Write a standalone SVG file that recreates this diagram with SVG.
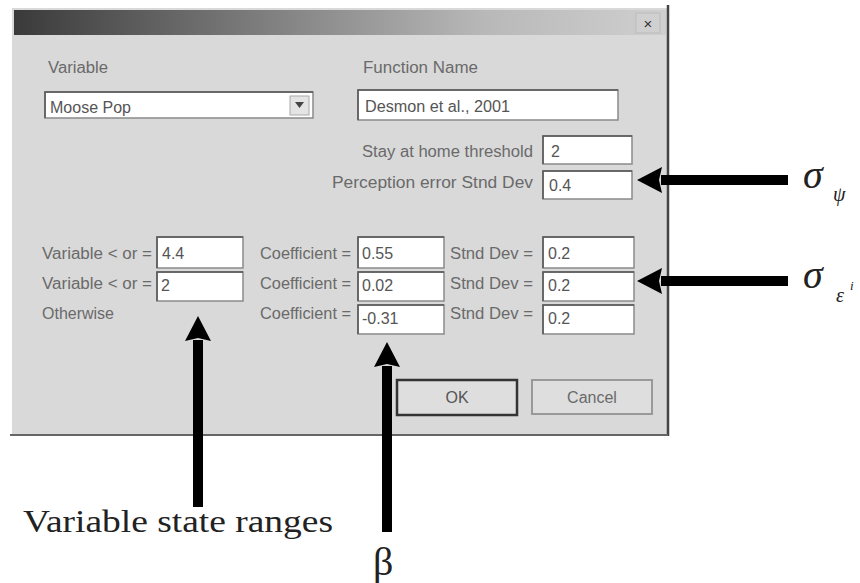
<svg xmlns="http://www.w3.org/2000/svg" width="860" height="583" viewBox="0 0 860 583">
<defs>
<linearGradient id="tb" x1="0" y1="0" x2="1" y2="0">
<stop offset="0" stop-color="#3a3a3a"/>
<stop offset="0.15" stop-color="#555"/>
<stop offset="0.45" stop-color="#8a8a8a"/>
<stop offset="0.72" stop-color="#b8b8b8"/>
<stop offset="1" stop-color="#cfcfcf"/>
</linearGradient>
<marker id="ah" markerUnits="userSpaceOnUse" markerWidth="26" markerHeight="26" viewBox="0 0 26 26" refX="1" refY="13" orient="auto">
<path d="M0,0 L25,13 L0,26 L3,13 z" fill="#000"/>
</marker>
<style>
.lbl{font-family:"Liberation Sans",Arial,sans-serif;font-size:16px;fill:#6a6a6a}
.val{font-family:"Liberation Sans",Arial,sans-serif;font-size:16px;fill:#555}
.box{fill:#fff;stroke:#8a8a8a;stroke-width:1.5}
.sunk{fill:none;stroke:#555;stroke-width:1.5}
.arr{stroke:#000;stroke-width:10;fill:none;marker-end:url(#ah)}
.serif{font-family:"Liberation Serif","Times New Roman",serif;fill:#222}
.btn{fill:#dedede;stroke:#999;stroke-width:2}
</style>
</defs>
<rect width="860" height="583" fill="#fff"/>

<g id="dialog">
<rect x="12" y="8" width="656" height="427" fill="#d9d9d9"/>
<rect x="14" y="10" width="652" height="25" fill="url(#tb)"/>
<line x1="668" y1="5" x2="668" y2="436" stroke="#444" stroke-width="2.5"/>
<line x1="10" y1="435" x2="668" y2="435" stroke="#666" stroke-width="2"/>
</g>

<g id="close">
<rect x="636" y="13" width="24" height="20" fill="#d0d0d0" stroke="#bbb"/>
<text x="648" y="29" text-anchor="middle" class="val" style="font-size:15px;fill:#333">×</text>
</g>

<g id="variable">
<text x="48" y="73" class="lbl" textLength="60" lengthAdjust="spacingAndGlyphs">Variable</text>
<rect x="45" y="92" width="268" height="26" class="box"/>
<polyline points="45,118 45,92 313,92" class="sunk"/>
<text x="50" y="113" class="val">Moose Pop</text>
<rect x="290" y="96" width="19" height="19" fill="#e4e4e4" stroke="#aaa"/>
<path d="M295,102 L304,102 L299.5,108 z" fill="#444"/>
</g>

<g id="function-name">
<text x="363" y="73" class="lbl" textLength="115" lengthAdjust="spacingAndGlyphs">Function Name</text>
<rect x="358" y="90" width="260" height="30" class="box"/>
<polyline points="358,120 358,90 618,90" class="sunk"/>
<text x="365" y="112" class="val" textLength="145" lengthAdjust="spacingAndGlyphs">Desmon et al., 2001</text>
</g>

<g id="stay-threshold">
<text x="533" y="157" text-anchor="end" class="lbl" textLength="171" lengthAdjust="spacingAndGlyphs">Stay at home threshold</text>
<rect x="543" y="136" width="89" height="28" class="box"/>
<polyline points="543,164 543,136 632,136" class="sunk"/>
<text x="551" y="157" class="val">2</text>
</g>

<g id="perception-sd">
<text x="533" y="188" text-anchor="end" class="lbl" textLength="201" lengthAdjust="spacingAndGlyphs">Perception error Stnd Dev</text>
<rect x="543" y="171" width="89" height="28" class="box"/>
<polyline points="543,199 543,171 632,171" class="sunk"/>
<text x="549" y="191" class="val">0.4</text>
</g>

<g id="row1">
<text x="42" y="259" class="lbl" textLength="110" lengthAdjust="spacingAndGlyphs">Variable &lt; or =</text>
<rect x="157" y="237" width="86" height="31" class="box"/>
<polyline points="157,268 157,237 243,237" class="sunk"/>
<text x="162" y="259" class="val">4.4</text>
<text x="260" y="259" class="lbl" textLength="91" lengthAdjust="spacingAndGlyphs">Coefficient =</text>
<rect x="358" y="237" width="86" height="31" class="box"/>
<polyline points="358,268 358,237 444,237" class="sunk"/>
<text x="362" y="259" class="val">0.55</text>
<text x="450" y="259" class="lbl" textLength="83" lengthAdjust="spacingAndGlyphs">Stnd Dev =</text>
<rect x="543" y="237" width="91" height="31" class="box"/>
<polyline points="543,268 543,237 634,237" class="sunk"/>
<text x="548" y="259" class="val">0.2</text>
</g>

<g id="row2">
<text x="42" y="289" class="lbl" textLength="110" lengthAdjust="spacingAndGlyphs">Variable &lt; or =</text>
<rect x="157" y="272" width="86" height="29" class="box"/>
<polyline points="157,301 157,272 243,272" class="sunk"/>
<text x="161" y="291" class="val">2</text>
<text x="260" y="289" class="lbl" textLength="91" lengthAdjust="spacingAndGlyphs">Coefficient =</text>
<rect x="358" y="272" width="86" height="29" class="box"/>
<polyline points="358,301 358,272 444,272" class="sunk"/>
<text x="362" y="291" class="val">0.02</text>
<text x="450" y="289" class="lbl" textLength="83" lengthAdjust="spacingAndGlyphs">Stnd Dev =</text>
<rect x="543" y="272" width="91" height="29" class="box"/>
<polyline points="543,301 543,272 634,272" class="sunk"/>
<text x="548" y="291" class="val">0.2</text>
</g>

<g id="row3">
<text x="42" y="319" class="lbl" textLength="72" lengthAdjust="spacingAndGlyphs">Otherwise</text>
<text x="260" y="319" class="lbl" textLength="91" lengthAdjust="spacingAndGlyphs">Coefficient =</text>
<rect x="358" y="305" width="86" height="29" class="box"/>
<polyline points="358,334 358,305 444,305" class="sunk"/>
<text x="362" y="324" class="val">-0.31</text>
<text x="450" y="319" class="lbl" textLength="83" lengthAdjust="spacingAndGlyphs">Stnd Dev =</text>
<rect x="543" y="305" width="91" height="29" class="box"/>
<polyline points="543,334 543,305 634,305" class="sunk"/>
<text x="548" y="324" class="val">0.2</text>
</g>

<g id="ok-button">
<rect x="397" y="380" width="120" height="35" class="btn" style="stroke:#333;stroke-width:2.5"/>
<text x="457" y="403" text-anchor="middle" class="val">OK</text>
</g>

<g id="cancel-button">
<rect x="532" y="380" width="120" height="34" class="btn"/>
<text x="592" y="403" text-anchor="middle" class="lbl">Cancel</text>
</g>

<g id="connectors">
<line x1="788" y1="180" x2="661" y2="180" class="arr"/>
<line x1="788" y1="281" x2="661" y2="281" class="arr"/>
<line x1="198" y1="507" x2="198" y2="340" class="arr"/>
<line x1="387" y1="532" x2="387" y2="366" class="arr"/>
</g>

<g id="sigma-psi">
<text x="803" y="188" class="serif" style="font-size:40px;font-style:italic">σ</text>
<text x="833" y="201" class="serif" style="font-size:20px;font-style:italic">ψ</text>
</g>

<g id="sigma-eps">
<text x="803" y="288" class="serif" style="font-size:40px;font-style:italic">σ</text>
<text x="836" y="302" class="serif" style="font-size:20px;font-style:italic">ε</text>
<text x="850" y="290" class="serif" style="font-size:13px;font-style:italic">i</text>
</g>

<g id="label-ranges">
<text x="23" y="532" class="serif" style="font-size:32px" textLength="310" lengthAdjust="spacingAndGlyphs">Variable state ranges</text>
</g>

<g id="label-beta">
<text x="373" y="575" class="serif" style="font-size:40px">β</text>
</g>
</svg>
